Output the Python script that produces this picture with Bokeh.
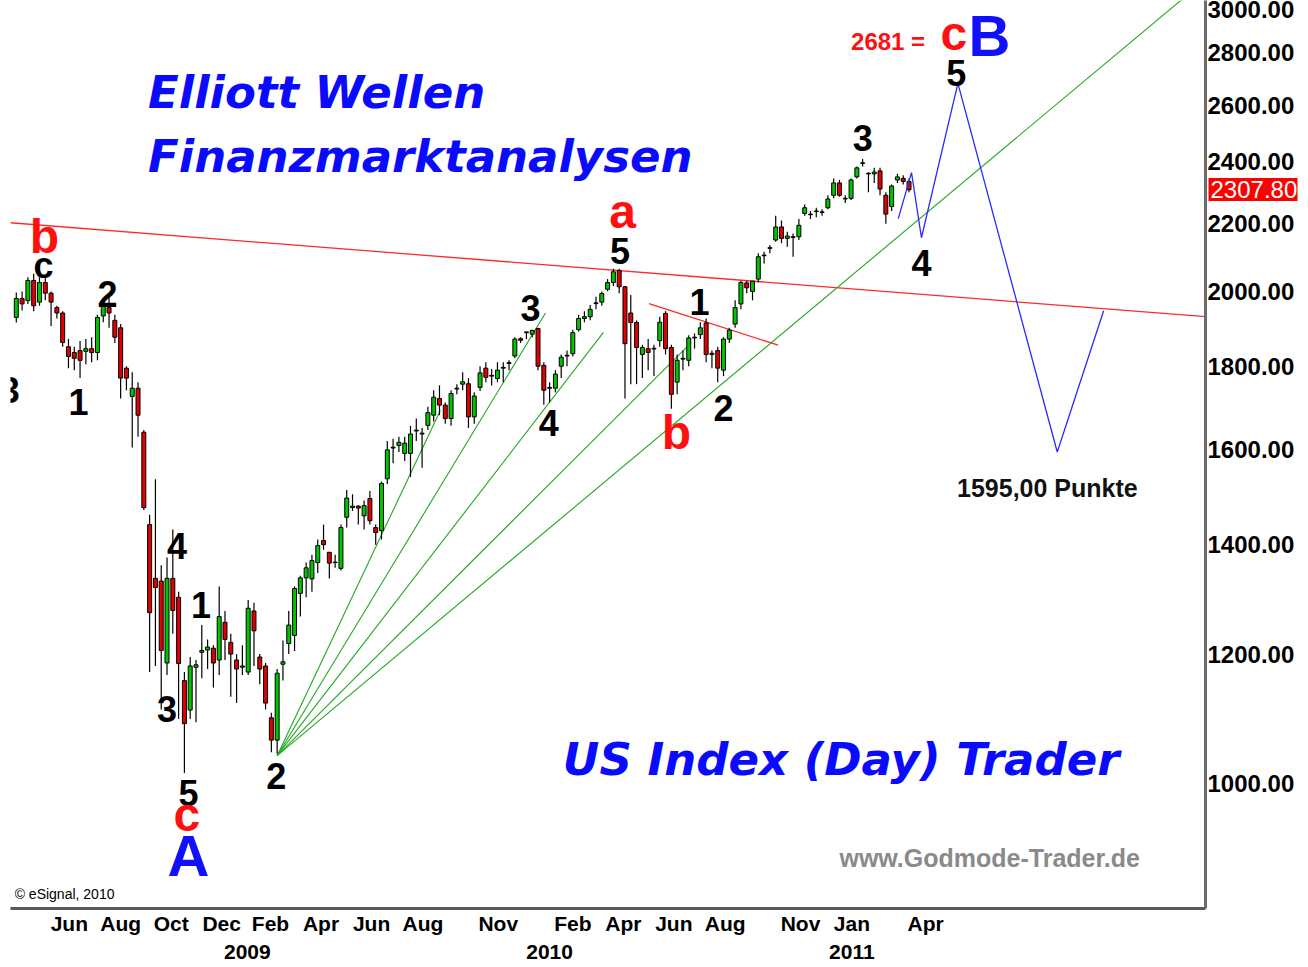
import pandas as pd
from bokeh.plotting import figure
from bokeh.models import ColumnDataSource, FixedTicker, PrintfTickFormatter, Range1d, LinearAxis, LogAxis
from bokeh.core.properties import value
from bokeh.embed import file_html
from bokeh.resources import INLINE

# ---------------- data (weekly candles, US index) ----------------
first_week = "2008-04-28"
opens = [1928, 1980, 1974, 2031, 1970, 2025, 1995, 1955, 1940, 1850,
         1835, 1840, 1838, 1845, 1835, 1932, 1955, 1920, 1900, 1795,
         1725, 1745, 1640, 1440, 1335, 1330, 1185, 1335, 1300, 1156,
         1109, 1178, 1203, 1207, 1210, 1190, 1255, 1220, 1190, 1178,
         1170, 1275, 1195, 1180, 1097, 1063, 1183, 1218, 1232, 1307,
         1336, 1334, 1365, 1408, 1385, 1365, 1354, 1455, 1475, 1478,
         1458, 1494, 1434, 1428, 1536, 1604, 1610, 1592, 1592, 1643,
         1636, 1656, 1680, 1720, 1704, 1672, 1743, 1755, 1756, 1676,
         1747, 1795, 1775, 1769, 1795, 1807, 1826, 1871, 1887, 1883,
         1898, 1802, 1745, 1745, 1800, 1826, 1832, 1895, 1925, 1930,
         1966, 1970, 2006, 2025, 2060, 2013, 1940, 1914, 1830, 1845,
         1844, 1866, 1939, 1848, 1760, 1818, 1815, 1873, 1882, 1913,
         1830, 1840, 1790, 1870, 1910, 1965, 2024, 2000, 2035, 2103,
         2125, 2150, 2190, 2155, 2160, 2160, 2232, 2228, 2238, 2235,
         2250, 2290, 2330, 2278, 2280, 2350, 2395, 2360, 2360, 2370,
         2290, 2254, 2340, 2345, 2335]
highs = [1997, 2000, 2040, 2050, 2040, 2045, 2000, 1960, 1945, 1870,
         1850, 1865, 1870, 1875, 1935, 1975, 1985, 1935, 1910, 1800,
         1785, 1760, 1645, 1460, 1535, 1360, 1375, 1430, 1310, 1170,
         1195, 1190, 1250, 1225, 1215, 1320, 1275, 1235, 1200, 1215,
         1295, 1290, 1200, 1185, 1105, 1175, 1223, 1275, 1320, 1340,
         1365, 1380, 1410, 1440, 1385, 1380, 1440, 1512, 1503, 1480,
         1490, 1510, 1440, 1530, 1620, 1625, 1630, 1630, 1655, 1672,
         1650, 1700, 1740, 1752, 1710, 1740, 1755, 1785, 1770, 1735,
         1800, 1810, 1793, 1810, 1810, 1815, 1875, 1875, 1890, 1895,
         1900, 1810, 1760, 1790, 1830, 1840, 1895, 1935, 1945, 1962,
         1985, 2000, 2035, 2065, 2065, 2015, 1990, 1920, 1855, 1870,
         1855, 1930, 1945, 1855, 1830, 1840, 1880, 1885, 1915, 1925,
         1840, 1850, 1875, 1900, 1975, 2030, 2030, 2030, 2110, 2115,
         2135, 2225, 2210, 2175, 2170, 2215, 2260, 2240, 2250, 2245,
         2290, 2345, 2340, 2290, 2345, 2385, 2410, 2365, 2380, 2380,
         2300, 2325, 2360, 2355, 2345]
lows = [1914, 1947, 1965, 1945, 1960, 1975, 1905, 1925, 1850, 1795,
        1790, 1770, 1805, 1810, 1815, 1915, 1900, 1860, 1720, 1740,
        1605, 1630, 1470, 1170, 1180, 1110, 1165, 1235, 1095, 1015,
        1095, 1090, 1160, 1175, 1145, 1165, 1190, 1130, 1120, 1165,
        1165, 1180, 1150, 1110, 1045, 1043, 1156, 1200, 1205, 1265,
        1300, 1310, 1345, 1390, 1335, 1355, 1350, 1434, 1468, 1440,
        1430, 1440, 1400, 1410, 1525, 1570, 1595, 1575, 1540, 1620,
        1560, 1645, 1665, 1680, 1660, 1655, 1730, 1740, 1650, 1660,
        1738, 1760, 1752, 1760, 1760, 1790, 1820, 1860, 1870, 1875,
        1790, 1705, 1710, 1735, 1770, 1800, 1825, 1890, 1915, 1920,
        1950, 1960, 2000, 2015, 1995, 1720, 1755, 1755, 1770, 1790,
        1775, 1850, 1830, 1695, 1730, 1790, 1800, 1845, 1870, 1810,
        1795, 1760, 1775, 1860, 1900, 1950, 1995, 1975, 2025, 2080,
        2110, 2145, 2140, 2130, 2100, 2150, 2225, 2215, 2220, 2225,
        2245, 2280, 2285, 2265, 2275, 2345, 2385, 2300, 2330, 2290,
        2200, 2240, 2330, 2325, 2300]
closes = [1980, 1965, 2031, 1960, 2025, 1995, 1970, 1940, 1861, 1825,
          1820, 1815, 1845, 1835, 1928, 1962, 1940, 1875, 1770, 1770,
          1745, 1680, 1475, 1272, 1318, 1206, 1335, 1276, 1184, 1088,
          1180, 1182, 1206, 1212, 1185, 1265, 1225, 1200, 1175, 1180,
          1280, 1240, 1175, 1120, 1063, 1168, 1187, 1250, 1316, 1336,
          1355, 1369, 1398, 1400, 1364, 1366, 1434, 1495, 1478, 1474,
          1479, 1448, 1424, 1526, 1600, 1606, 1617, 1615, 1636, 1645,
          1638, 1686, 1723, 1704, 1672, 1732, 1745, 1761, 1676, 1726,
          1783, 1772, 1777, 1790, 1797, 1809, 1870, 1867, 1889, 1893,
          1800, 1740, 1747, 1780, 1823, 1828, 1887, 1925, 1930, 1950,
          1968, 1994, 2025, 2056, 2013, 1858, 1914, 1848, 1848, 1835,
          1846, 1915, 1845, 1730, 1815, 1820, 1873, 1875, 1900, 1830,
          1833, 1795, 1870, 1894, 1955, 2025, 2010, 2029, 2100, 2105,
          2127, 2190, 2155, 2162, 2158, 2195, 2250, 2230, 2240, 2237,
          2278, 2330, 2290, 2280, 2340, 2380, 2397, 2362, 2366, 2310,
          2230, 2320, 2350, 2335, 2307.80]
last_price = 2307.80

y_ticks = [1000, 1200, 1400, 1600, 1800, 2000, 2200, 2400, 2600, 2800, 3000]
month_labels = ["Jun", "Aug", "Oct", "Dec", "Feb", "Apr", "Jun", "Aug", "Nov",
                "Feb", "Apr", "Jun", "Aug", "Nov", "Jan", "Apr"]
month_periods = ["2008-06", "2008-08", "2008-10", "2008-12", "2009-02", "2009-04",
                 "2009-06", "2009-08", "2009-11", "2010-02", "2010-04", "2010-06",
                 "2010-08", "2010-11", "2011-01", "2011-04"]
year_labels = ["2009", "2010", "2011"]

# trend lines (date, price)
red_line_dates = ["2008-04-21", "2012-04-03"]
red_line_prices = [2203, 1930]
small_red_dates = ["2010-06-01", "2010-11-04"]
small_red_prices = [1966, 1854]
fan_origin_date = "2009-03-09"
fan_origin_price = 1040
fan_end_dates = ["2009-09-22", "2010-01-27", "2010-04-07", "2010-07-22", "2012-03-22"]
fan_end_prices = [1691, 1940, 1888, 1861, 3066]
proj_dates = ["2011-03-29", "2011-04-14", "2011-04-26", "2011-06-09", "2011-10-07", "2011-12-02"]
proj_prices = [2216, 2364, 2157, 2681, 1595, 1946]

# wave labels
wave_text = ["b", "c", "3", "1", "2", "4", "1", "3", "5", "c", "A", "2",
             "3", "4", "5", "a", "b", "1", "2", "3", "4", "5", "c", "B"]
wave_dates = ["2008-06-01", "2008-05-31", "2008-04-20", "2008-07-12", "2008-08-16",
              "2008-11-08", "2008-12-07", "2008-10-27", "2008-11-22", "2008-11-20",
              "2008-11-22", "2009-03-08", "2010-01-09", "2010-01-31", "2010-04-27",
              "2010-04-30", "2010-07-04", "2010-08-01", "2010-08-30", "2011-02-14",
              "2011-04-26", "2011-06-07", "2011-06-04", "2011-07-17"]
wave_prices = [2160, 2073, 1740, 1711, 1994, 1398, 1285, 1111, 987, 957, 904, 1011,
               1955, 1662, 2118, 2238, 1640, 1969, 1696, 2484, 2083, 2722, 2876, 2868]
wave_kind = ["red", "black", "black", "black", "black", "black", "black", "black",
             "black", "red", "blue", "black", "black", "black", "black", "red", "red",
             "black", "black", "black", "black", "black", "red", "blue"]

title_texts = ["Elliott Wellen", "Finanzmarktanalysen", "US Index (Day) Trader"]
title_dates = ["2008-10-04", "2008-10-04", "2010-02-17"]
title_prices = [2645, 2417, 1035]

# ---------------- helpers ----------------
T0 = pd.Timestamp("2008-01-01")


def dnum(s):
    return int((pd.Timestamp(s) - T0).days)


x_start, x_end = dnum("2008-04-21"), dnum("2012-04-03")

weeks = pd.date_range(first_week, periods=len(closes), freq="7D")
wx = [int((w - T0).days) for w in weeks]
up = [c >= o for o, c in zip(opens, closes)]
src = ColumnDataSource(dict(
    x=wx, o=opens, h=highs, l=lows, c=closes,
    top=[max(o, c) for o, c in zip(opens, closes)],
    bot=[min(o, c) for o, c in zip(opens, closes)],
    col=["#00c400" if u else "#e00000" for u in up],
))

p = figure(width=1308, height=967,
           x_range=Range1d(x_start, x_end),
           y_range=Range1d(838.6, 3012.7),
           y_axis_type="log", y_axis_location="right",
           output_backend="svg", toolbar_location=None,
           min_border_left=10, min_border_right=103, min_border_top=0, min_border_bottom=59)
p.outline_line_color = None
p.xgrid.visible = False
p.ygrid.visible = False
p.background_fill_color = "white"
p.border_fill_color = "white"

# y axis
ya = p.yaxis[0]
ya.ticker = FixedTicker(ticks=y_ticks)
ya.formatter = PrintfTickFormatter(format="%.2f")
ya.major_tick_line_color = None
ya.major_tick_out = 0
ya.major_tick_in = 0
ya.minor_tick_line_color = None
ya.axis_line_color = "#6a6a6a"
ya.axis_line_width = 3
ya.major_label_standoff = 2
ya.major_label_text_font = "Liberation Sans"
ya.major_label_text_font_style = "bold"
ya.major_label_text_font_size = "24px"
ya.major_label_text_color = "black"

# last price tag: a one-tick axis whose inward tick forms the red box
tag = LogAxis(ticker=FixedTicker(ticks=[last_price]),
              formatter=PrintfTickFormatter(format="%.2f"),
              axis_line_color=None,
              major_tick_in=89, major_tick_out=0,
              major_tick_line_color="#ff0000", major_tick_line_width=23,
              minor_tick_line_color=None,
              major_label_standoff=-87,
              major_label_text_color="white",
              major_label_text_font="Liberation Sans",
              major_label_text_font_size="24px")
p.add_layout(tag, "right")

# x axis: months
month_ticks = [dnum((pd.Period(m, freq="M") + 1).start_time) for m in month_periods]
xa = p.xaxis[0]
xa.ticker = FixedTicker(ticks=month_ticks)
xa.major_label_overrides = {t: lab for t, lab in zip(month_ticks, month_labels)}
xa.major_tick_line_color = None
xa.major_tick_out = 0
xa.major_tick_in = 0
xa.minor_tick_line_color = None
xa.axis_line_color = "#5a5a5a"
xa.axis_line_width = 3
xa.major_label_standoff = 3
xa.major_label_text_font = "Liberation Sans"
xa.major_label_text_font_style = "bold"
xa.major_label_text_font_size = "21px"
xa.major_label_text_color = "black"

year_ticks = [dnum(f"{y}-02-01") for y in year_labels]
yr = LinearAxis(ticker=FixedTicker(ticks=year_ticks),
                major_label_overrides={t: y for t, y in zip(year_ticks, year_labels)},
                axis_line_color=None, major_tick_line_color=None, minor_tick_line_color=None,
                major_tick_out=0, major_tick_in=0,
                major_label_standoff=7,
                major_label_text_font="Liberation Sans",
                major_label_text_font_style="bold",
                major_label_text_font_size="21px",
                major_label_text_color="black")
p.add_layout(yr, "below")

# trend lines
p.line([dnum(d) for d in red_line_dates], red_line_prices, line_color="#ff2a2a", line_width=1.3)
p.line([dnum(d) for d in small_red_dates], small_red_prices, line_color="#ff2a2a", line_width=1.3)
n = len(fan_end_dates)
p.segment(x0=[dnum(fan_origin_date)] * n, y0=[fan_origin_price] * n,
          x1=[dnum(d) for d in fan_end_dates], y1=fan_end_prices,
          line_color="#22a822", line_width=1.1)

# candles
p.segment(x0="x", y0="l", x1="x", y1="h", source=src, line_color="black", line_width=1.2)
p.vbar(x="x", width=4.8, top="top", bottom="bot", source=src,
       fill_color="col", line_color="black", line_width=1)

# projection
p.line([dnum(d) for d in proj_dates], proj_prices, line_color="#2a2aff", line_width=1.3)

# wave labels
kind_color = {"red": "#ff1010", "black": "black", "blue": "#1010ff"}
kind_size = {"red": "48px", "black": "36px", "blue": "58px"}
wsrc = ColumnDataSource(dict(
    x=[dnum(d) for d in wave_dates], y=wave_prices, t=wave_text,
    col=[kind_color[k] for k in wave_kind], sz=[kind_size[k] for k in wave_kind]))
p.text(x="x", y="y", text="t", source=wsrc, text_color="col", text_font_size="sz",
       text_font=value("Liberation Sans"), text_font_style="bold",
       text_align="center", text_baseline="middle")

# titles
tsrc = ColumnDataSource(dict(x=[dnum(d) for d in title_dates], y=title_prices, t=title_texts))
p.text(x="x", y="y", text="t", source=tsrc, text_color="#0a0aff", text_font_size="45px",
       text_font=value("DejaVu Sans"), text_font_style="bold italic",
       text_align="left", text_baseline="middle")

# other texts
p.text(x=[dnum("2011-01-17")], y=[901], text=["www.Godmode-Trader.de"], text_color="#8a8a8a",
       text_font_size="25px", text_font=value("Liberation Sans"), text_font_style="bold",
       text_align="left", text_baseline="middle")
p.text(x=[dnum("2011-06-08")], y=[1516], text=["1595,00 Punkte"], text_color="#111111",
       text_font_size="25px", text_font=value("Liberation Sans"), text_font_style="bold",
       text_align="left", text_baseline="middle")
p.text(x=[dnum("2008-04-26")], y=[856.5], text=["\u00a9 eSignal, 2010"], text_color="black",
       text_font_size="14px", text_font=value("Liberation Sans"),
       text_align="left", text_baseline="middle")
p.text(x=[dnum("2011-01-31")], y=[2842], text=["2681 = "], text_color="#ff1010",
       text_font_size="24px", text_font=value("Liberation Sans"), text_font_style="bold",
       text_align="left", text_baseline="middle")

open("out.html", "w").write(file_html(p, INLINE))
